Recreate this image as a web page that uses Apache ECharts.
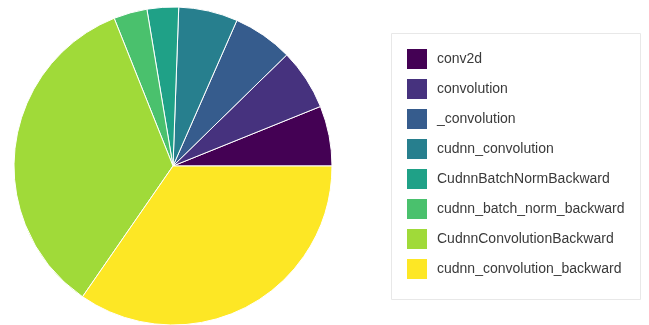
<!DOCTYPE html>
<html>
<head>
<meta charset="utf-8">
<script src="https://cdn.jsdelivr.net/npm/echarts@6/dist/echarts.min.js"></script>
<style>html,body{margin:0;padding:0;background:#fff;}#c{width:649px;height:325px;}</style>
</head>
<body>
<div id="c"></div>
<script>
const categories = ['conv2d','convolution','_convolution','cudnn_convolution','CudnnBatchNormBackward','cudnn_batch_norm_backward','CudnnConvolutionBackward','cudnn_convolution_backward'];
const values = [6.1, 6.2, 6.1, 6.0, 3.2, 3.4, 34.3, 34.6];
const colors = ['#440154','#46327e','#365c8d','#277f8e','#1fa187','#4ac16d','#a0da39','#fde725'];

const chart = echarts.init(document.getElementById('c'), null, {renderer:'canvas'});
chart.setOption({
  animation: false,
  color: colors,
  graphic: [{
    type: 'rect', left: 391, top: 33, z: 0,
    shape: {width: 249, height: 266},
    style: {fill: '#fff', stroke: '#e8e8e8', lineWidth: 1}
  }],
  legend: {
    orient: 'vertical',
    left: 407, top: 49,
    padding: 0,
    itemWidth: 20, itemHeight: 20, itemGap: 10,
    icon: 'rect',
    data: categories,
    textStyle: {fontSize: 14, color: '#3a3a3a', fontFamily: 'Liberation Sans, Arial, sans-serif', padding: [0,0,0,5]},
    itemStyle: {borderWidth: 0}
  },
  series: [{
    type: 'pie',
    center: [173, 166],
    radius: [0, 159],
    startAngle: 0,
    clockwise: false,
    label: {show: false},
    labelLine: {show: false},
    itemStyle: {borderColor: '#fff', borderWidth: 1},
    data: categories.map((n, i) => ({name: n, value: values[i]}))
  }]
});
</script>
</body>
</html>
